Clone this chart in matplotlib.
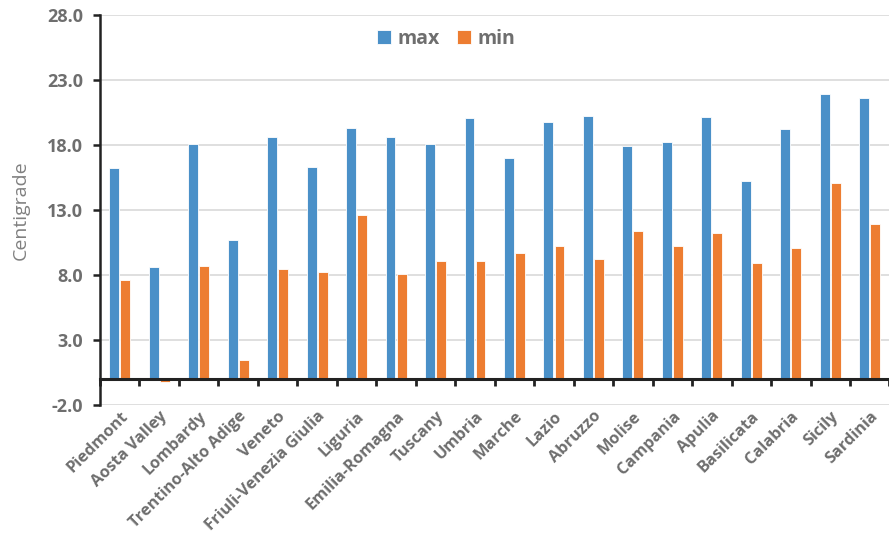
import matplotlib.pyplot as plt
import numpy as np

regions = ['Piedmont', 'Aosta Valley', 'Lombardy', 'Trentino-Alto Adige', 'Veneto',
           'Friuli-Venezia Giulia', 'Liguria', 'Emilia-Romagna', 'Tuscany', 'Umbria',
           'Marche', 'Lazio', 'Abruzzo', 'Molise', 'Campania', 'Apulia', 'Basilicata',
           'Calabria', 'Sicily', 'Sardinia']
t_max = [16.2, 8.6, 18.1, 10.7, 18.6, 16.3, 19.3, 18.6, 18.1, 20.1,
         17.0, 19.8, 20.2, 17.9, 18.2, 20.15, 15.2, 19.2, 21.9, 21.6]
t_min = [7.6, -0.2, 8.7, 1.5, 8.5, 8.2, 12.6, 8.1, 9.1, 9.1,
         9.7, 10.25, 9.25, 11.4, 10.2, 11.2, 8.95, 10.1, 15.1, 11.9]
y_ticks = [-2, 3, 8, 13, 18, 23, 28]

gray = '#6e6e6e'
blue = '#4a90c8'
orange = '#ed7d31'

plt.rcParams['font.family'] = ['Open Sans', 'DejaVu Sans']

fig = plt.figure(figsize=(8.89, 5.38), dpi=100)
ax = fig.add_axes([0.1125, 0.247, 0.888, 0.725])

x = np.arange(len(regions))
w = 0.25
ax.bar(x - 0.14, t_max, w, color=blue, edgecolor='white', linewidth=0.6, label='max', zorder=3)
ax.bar(x + 0.14, t_min, w, color=orange, edgecolor='white', linewidth=0.6, label='min', zorder=3)

ax.set_xlim(-0.5, len(regions) - 0.5)
ax.set_ylim(-2, 28)
ax.set_yticks(y_ticks)
ax.set_yticklabels(['{:.1f}'.format(v) for v in y_ticks], fontsize=13, fontweight='bold', color=gray)
ax.grid(axis='y', color='#d9d9d9', linewidth=1.2, zorder=0)
ax.set_axisbelow(True)

# x axis sits at zero, ticks between categories, labels below the plot
ax.spines['bottom'].set_position(('data', 0))
ax.spines['bottom'].set_linewidth(2.2)
ax.spines['bottom'].set_color('#222222')
ax.spines['bottom'].set_zorder(4)
ax.spines['left'].set_linewidth(1.8)
ax.spines['left'].set_color('#222222')
ax.spines['top'].set_visible(False)
ax.spines['right'].set_visible(False)

ax.set_xticks(np.arange(len(regions) + 1) - 0.5)
ax.set_xticklabels([])
ax.tick_params(axis='x', which='major', length=5, width=2, color='#222222', direction='out')
ax.set_xticks(x, minor=True)
ax.set_xticklabels(regions, minor=True, rotation=45, ha='right', rotation_mode='anchor',
                   fontsize=11.8, fontweight='bold', color=gray)
ax.tick_params(axis='x', which='minor', length=0, pad=21)
ax.tick_params(axis='y', length=5, width=1.8, color='#222222', pad=7)

ax.set_ylabel('Centigrade', fontsize=14, color='#808080', labelpad=13)

leg = ax.legend(loc='upper center', bbox_to_anchor=(0.438, 1.01), ncol=2, frameon=False,
                prop={'weight': 'bold', 'size': 14}, handlelength=0.75, handleheight=0.75,
                columnspacing=0.9, handletextpad=0.3)
for t in leg.get_texts():
    t.set_color(gray)

fig.savefig('out.png', dpi=100)
